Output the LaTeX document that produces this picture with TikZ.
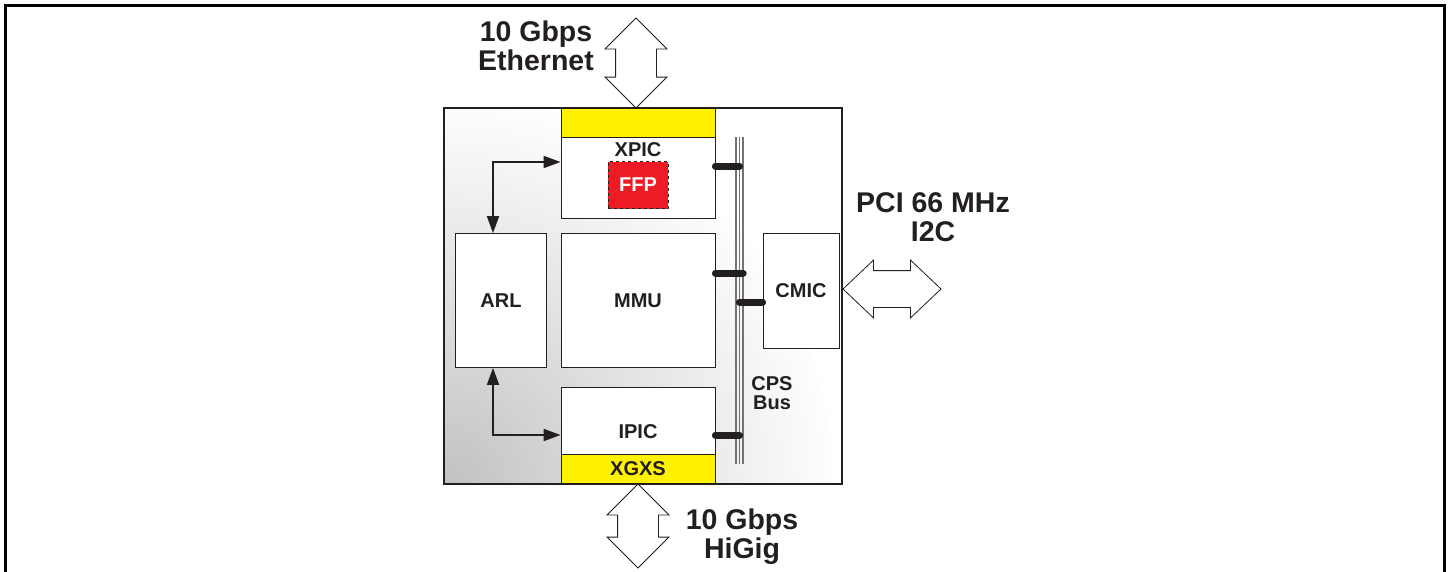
\documentclass[tikz,border=0pt]{standalone}
\usepackage{fontspec}
\setmainfont{Liberation Sans}
\usetikzlibrary{calc,arrows.meta,shapes.arrows}

\definecolor{inkgray}{RGB}{35,31,32}
\definecolor{portyellow}{RGB}{255,242,0}
\definecolor{ffpred}{RGB}{237,28,36}
\pgfdeclareradialshading{chipglow}{\pgfpoint{0bp}{0bp}}{color(0bp)=(black!24); color(10bp)=(black!14); color(25bp)=(white); color(50bp)=(white)}

\tikzset{
    block/.style={draw=inkgray, line width=0.8pt, fill=white, inner sep=0pt},
    blocktext/.style={inner sep=0pt, text=inkgray, font=\bfseries\fontsize{20}{19}\selectfont, align=center},
    biglabel/.style={inner sep=0pt, text=inkgray, font=\bfseries\fontsize{28.5}{29}\selectfont, align=center},
    portbar/.style={block, fill=portyellow},
    busline/.style={draw=black!55, line width=1.3pt},
    stub/.style={line width=7pt, line cap=round, draw=inkgray},
    link/.style={line width=1.8pt, draw=inkgray, {Triangle[length=17pt,width=12pt]}-{Triangle[length=17pt,width=12pt]}},
    hollow arrow/.style={double arrow, draw=inkgray, line width=0.8pt, fill=white, inner xsep=0pt, double arrow tip angle=90}
}

\begin{document}
\begin{tikzpicture}[x=1pt, y=-1pt]
    \useasboundingbox (0,0) rectangle (1449,571);
    \coordinate (frame-bl) at (5,571);
    \coordinate (frame-tl) at (5,5);
    \coordinate (frame-tr) at (1444,5);
    \coordinate (frame-br) at (1444,571);
    \draw[line width=3pt, line cap=rect] (frame-bl) -- (frame-tl) -- (frame-tr) -- (frame-br);

    \begin{scope}[local bounding box=chipBB]
        \node[draw=inkgray, line width=1.6pt, minimum width=398pt, minimum height=376pt,
              path picture={\shade[shading=chipglow]
                  (path picture bounding box.south west) circle (390pt);}] (chip) at (643,296) {};

        \node[portbar, minimum width=154pt, minimum height=29pt] (xpic-bar) at (638,122.5) {};
        \node[block, minimum width=154pt, minimum height=81pt] (xpic) at (638,177.5) {};
        \node[blocktext] (xpic-lbl) at (638,150) {XPIC};
        \node[block, fill=ffpred, dashed, line width=0.6pt, minimum width=60pt, minimum height=47pt,
              text=white, font=\bfseries\fontsize{20}{20}\selectfont] (ffp) at (638,185) {FFP};

        \node[block, minimum width=91pt, minimum height=134pt] (arl) at (501,300.5) {};
        \node[blocktext] (arl-lbl) at (arl) {ARL};
        \node[block, minimum width=154pt, minimum height=134pt] (mmu) at (638,300.5) {};
        \node[blocktext] (mmu-lbl) at (mmu) {MMU};

        \node[block, minimum width=154pt, minimum height=67pt] (ipic) at (638,420.5) {};
        \node[blocktext] (ipic-lbl) at (638,432) {IPIC};
        \node[portbar, minimum width=154pt, minimum height=29pt] (xgxs) at (638,468.5) {};
        \node[blocktext] (xgxs-lbl) at (xgxs) {XGXS};

        \node[block, minimum width=76pt, minimum height=115pt] (cmic) at (801,290.5) {};
        \node[blocktext] (cmic-lbl) at (cmic) {CMIC};

        \node[minimum width=7pt, minimum height=327pt, inner sep=0pt] (bus) at (739.5,300.5) {};
        \foreach \dx in {-3.5,0,3.5}
            \draw[busline] ($(bus.north)+(\dx,0)$) -- ($(bus.south)+(\dx,0)$);
        \node[blocktext] (bus-lbl) at (772,393) {CPS\\Bus};

        \coordinate (xpic-tap) at ($(xpic.east)+(0,-11.5)$);
        \coordinate (mmu-tap) at ($(mmu.east)+(0,-27.5)$);
        \coordinate (cmic-tap) at ($(cmic.west)+(0,11.5)$);
        \coordinate (ipic-tap) at ($(ipic.east)+(0,14.5)$);
        \draw[stub] (xpic-tap) -- (xpic-tap -| bus.center);
        \draw[stub] (mmu-tap) -- (mmu-tap -| bus.east);
        \draw[stub] (cmic-tap -| bus.center) -- (cmic-tap);
        \draw[stub] (ipic-tap) -- (ipic-tap -| bus.center);

        \coordinate (arl-up) at ($(arl.north)+(-8,0)$);
        \coordinate (arl-down) at ($(arl.south)+(-8,0)$);
        \coordinate (xpic-in) at ($(xpic.west)+(0,-15.5)$);
        \coordinate (ipic-in) at ($(ipic.west)+(0,14.5)$);
        \draw[link] (arl-up) |- (xpic-in);
        \draw[link] (arl-down) |- (ipic-in);
    \end{scope}

    \node[hollow arrow, rotate=90, inner ysep=20pt, minimum height=90pt, double arrow head extend=10.5pt] (eth-port) at (636,63) {};
    \node[biglabel] (eth-lbl) at (536,46) {10 Gbps\\Ethernet};

    \node[hollow arrow, rotate=90, inner ysep=20pt, minimum height=84pt, double arrow head extend=10.5pt] (higig-port) at (638,526) {};
    \node[biglabel] (higig-lbl) at (742,537) {10 Gbps\\HiGig};

    \node[hollow arrow, inner ysep=18pt, minimum height=98pt, double arrow head extend=10.5pt, double arrow tip angle=87] (pci-port) at (892,289) {};
    \node[biglabel] (pci-lbl) at (933,217) {PCI 66 MHz\\I2C};
\end{tikzpicture}
\end{document}
